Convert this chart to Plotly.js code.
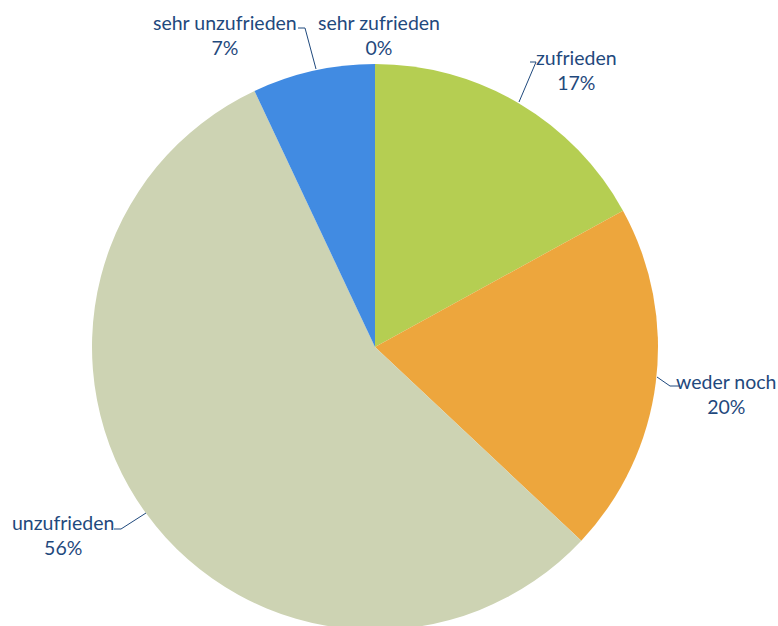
<!DOCTYPE html>
<html>
<head>
<meta charset="utf-8">
<script src="https://cdn.plot.ly/plotly-3.0.1.min.js"></script>
<style>html,body{margin:0;padding:0;overflow:hidden;background:#fff;}</style>
</head>
<body>
<div id="chart" style="width:778px;height:700px;"></div>
<script>
var labels = ["sehr zufrieden", "zufrieden", "weder noch", "unzufrieden", "sehr unzufrieden"];
var values = [0, 17, 20, 56, 7];
var colors = ["#4A7EBB", "#B5CE52", "#EDA63D", "#CDD3B3", "#418BE2"];

var W = 778, H = 700;
var M = {l: 92, r: 120, t: 64, b: 70};
var PW = W - M.l - M.r, PH = H - M.t - M.b;
function px(x) { return (x - M.l) / PW; }
function py(y) { return (H - M.b - y) / PH; }

var total = values.reduce(function (a, b) { return a + b; }, 0);
function pct(i) { return Math.round(values[i] / total * 100) + "%"; }

// label placement (pixel positions) for each category, in order of labels
var labelPos = [
  {x: 379, y: 35},
  {x: 576, y: 70},
  {x: 726, y: 394},
  {x: 63, y: 535},
  {x: 225, y: 35}
];
var leaders = [
  null,
  [[530, 62], [536, 62], [519, 102]],
  [[657, 377], [670, 386], [680, 386]],
  [[114, 529], [121, 529], [146, 513]],
  [[298, 28], [305, 28], [316, 69]]
];

var annotations = labels.map(function (l, i) {
  return {
    text: l + "<br>" + pct(i),
    x: px(labelPos[i].x), y: py(labelPos[i].y),
    xref: "paper", yref: "paper",
    xanchor: "center", yanchor: "middle",
    showarrow: false, align: "center",
    font: {family: "Lato, 'Open Sans', sans-serif", size: 19.5, color: "#1F497D"}
  };
});
var shapes = [];
leaders.forEach(function (pts) {
  if (!pts) return;
  var d = pts.map(function (p, k) { return (k ? "L" : "M") + px(p[0]) + "," + py(p[1]); }).join(" ");
  shapes.push({type: "path", xref: "paper", yref: "paper", path: d,
    line: {color: "#1F497D", width: 1}});
});

var trace = {
  type: "pie",
  labels: labels,
  values: values,
  sort: false,
  direction: "clockwise",
  rotation: 0,
  textinfo: "none",
  hoverinfo: "none",
  marker: {colors: colors, line: {color: "#ffffff", width: 0}},
  showlegend: false
};

var layout = {
  width: W, height: H,
  margin: {l: M.l, r: M.r, t: M.t, b: M.b, pad: 0},
  paper_bgcolor: "#ffffff",
  plot_bgcolor: "#ffffff",
  showlegend: false,
  annotations: annotations,
  shapes: shapes
};

Plotly.newPlot("chart", [trace], layout, {staticPlot: true, displayModeBar: false});
</script>
</body>
</html>
